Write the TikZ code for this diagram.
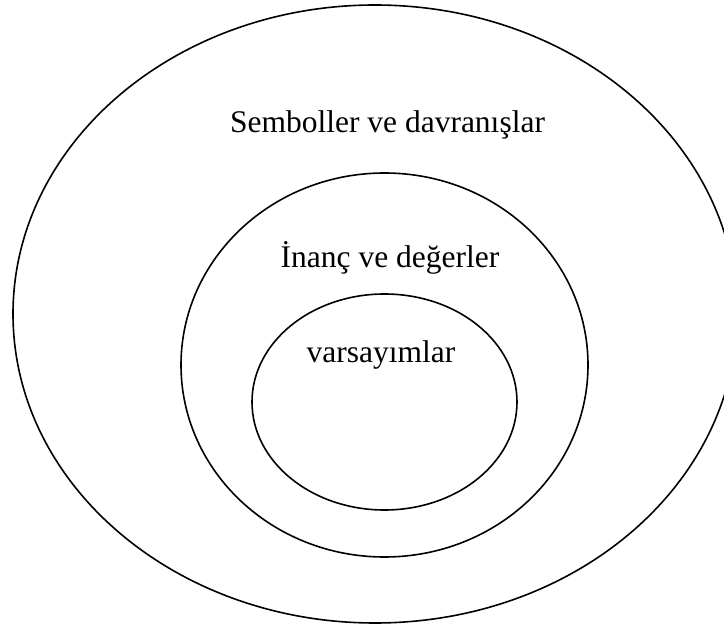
\documentclass[tikz,border=0pt]{standalone}
\usepackage{fontspec}
\setmainfont{Liberation Serif}
\usetikzlibrary{shapes.geometric}
\begin{document}
\begin{tikzpicture}[x=1pt,y=-1pt,
  ring/.style={draw=black, line width=1.6pt, ellipse, inner sep=0pt},
  lbl/.style={font=\fontsize{31.5}{36}\selectfont, inner sep=0pt, anchor=base}]
\useasboundingbox (0,0) rectangle (724,628);
\node[ring, minimum width=724pt, minimum height=618pt] (outer) at (375,314) {};
\node[ring, minimum width=407pt, minimum height=384pt] (middle) at (384.5,365) {};
\node[ring, minimum width=265pt, minimum height=216pt] (inner) at (384.5,402) {};
\node[lbl] (t1) at (387.5,133) {Semboller ve davranışlar};
\node[lbl] (t2) at (390,268) {İnanç ve değerler};
\node[lbl] (t3) at (381,363) {varsayımlar};
\end{tikzpicture}
\end{document}
